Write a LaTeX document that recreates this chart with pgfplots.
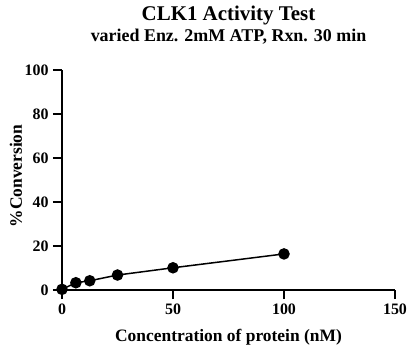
\documentclass[border=0pt]{standalone}
\usepackage{fontspec}
\setmainfont{Liberation Serif}
\usepackage{pgfplots}
\pgfplotsset{compat=1.18}
\begin{document}
\begin{tikzpicture}[font=\bfseries]
\begin{axis}[
  scale only axis, width=333bp, height=220bp,
  xmin=0, xmax=150, ymin=0, ymax=100,
  axis x line*=bottom, axis y line*=left,
  axis line style={line width=2.2bp, -},
  xtick={0,50,100,150}, ytick={0,20,40,60,80,100},
  tick style={line width=2bp, black},
  tick align=outside, major tick length=9bp,
  /pgf/number format/assume math mode=true,
  ticklabel style={font=\fontsize{16}{16}\selectfont\bfseries},
  xticklabel style={yshift=-1bp},
  yticklabel style={xshift=-1bp},
  xlabel={Concentration of protein (nM)},
  ylabel={\%Conversion},
  xlabel style={at={(axis description cs:0.5,-0.236)}, anchor=base, font=\fontsize{17.5}{17.5}\selectfont\bfseries},
  ylabel style={at={(axis description cs:-0.138,0.518)}, anchor=center, font=\fontsize{17.5}{17.5}\selectfont\bfseries},
  clip=false,
]
\addplot[black, line width=1.5bp, mark=*, mark size=5bp, mark options={solid}] coordinates {
  (0,0.3) (6.25,3.3) (12.5,4.2) (25,6.8) (50,10.1) (100,16.4)
};
\node[anchor=base] at (rel axis cs:0.5,0) [yshift=269bp] {\fontsize{21}{21}\selectfont\bfseries CLK1 Activity Test};
\node[anchor=base] at (rel axis cs:0.5,0) [yshift=248bp] {\fontsize{18}{18}\selectfont\bfseries varied Enz. 2mM ATP, Rxn. 30 min};
\end{axis}
\pgfresetboundingbox
\useasboundingbox (-62bp,-61bp) rectangle (354bp,290bp);
\end{tikzpicture}
\end{document}
